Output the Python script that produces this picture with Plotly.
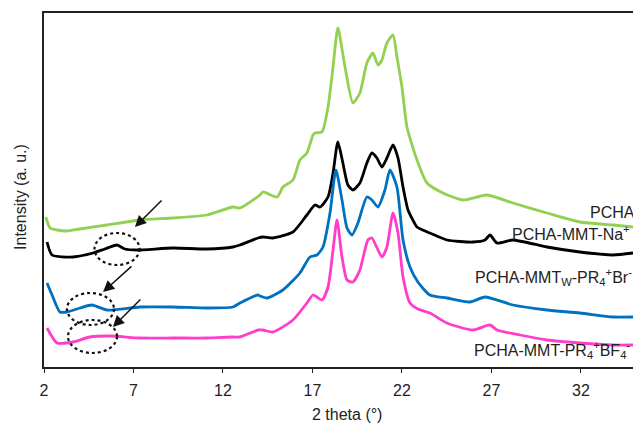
import plotly.graph_objects as go

# XRD patterns (2 theta in degrees, intensity in arbitrary units, curves offset vertically)
theta_pcha = [2.1, 2.34, 2.73, 3.28, 4.0, 5.52, 7.36, 9.21, 11.11, 12.56, 12.95, 14.07, 14.23,
              15.02, 15.35, 15.91, 16.30, 16.69, 17.03, 17.14, 17.53, 17.87, 18.15, 18.42, 18.82,
              19.26, 19.65, 20.04, 20.38, 20.66, 20.88, 21.16, 21.50, 21.72, 22.00, 22.28, 22.84,
              23.40, 24.29, 25.41, 26.75, 28.20, 30.10, 31.94, 33.79, 34.91]
int_pcha = [150, 139, 137, 136, 138, 142, 147, 149, 152, 160, 159, 172, 175,
            170, 180, 187, 207, 214, 232, 234, 235, 260, 300, 339, 300,
            264, 274, 304, 314, 302, 307, 324, 332, 310, 280, 240, 207,
            184, 174, 167, 172, 164, 154, 145, 142, 140]

theta_na = [2.17, 2.45, 3.62, 4.74, 5.40, 6.08, 6.52, 7.20, 9.21, 11.11, 12.56, 12.95, 13.96,
            14.23, 14.79, 15.91, 16.69, 17.14, 17.42, 17.87, 18.15, 18.42, 18.70, 18.98, 19.26,
            19.65, 20.04, 20.32, 20.60, 20.88, 21.16, 21.50, 21.78, 22.06, 22.34, 22.61, 22.84,
            23.56, 24.51, 25.97, 26.64, 26.92, 27.31, 28.20, 30.10, 31.94, 33.79, 34.91]
int_na = [125, 112, 110, 114, 118, 122, 118, 117, 119, 118, 120, 122, 129,
          130, 129, 135, 152, 162, 160, 170, 194, 225, 204, 182, 177,
          184, 204, 214, 209, 200, 209, 222, 209, 180, 157, 147, 140,
          134, 127, 125, 127, 132, 124, 127, 120, 115, 112, 114]

theta_br = [2.17, 2.45, 2.89, 3.28, 4.01, 4.68, 5.52, 7.36, 9.21, 11.11, 12.56, 12.95, 13.96,
            14.07, 14.46, 15.35, 16.30, 16.86, 17.25, 17.59, 17.98, 18.31, 18.65, 18.93, 19.21,
            19.54, 20.04, 20.32, 20.66, 21.05, 21.33, 21.72, 22.06, 22.45, 22.89, 23.56, 24.51,
            25.80, 26.64, 28.20, 30.10, 31.94, 33.79, 34.91]
int_br = [84, 72, 55, 55, 59, 62, 57, 60, 60, 59, 60, 64, 72,
          71, 69, 77, 94, 110, 112, 120, 154, 197, 167, 139, 132,
          144, 170, 167, 160, 177, 197, 180, 127, 100, 85, 72, 69,
          65, 70, 62, 57, 54, 50, 50]

theta_bf4 = [2.17, 2.73, 3.62, 4.57, 5.70, 7.36, 9.21, 11.11, 12.56, 12.95, 13.96, 14.23,
             14.79, 15.91, 16.69, 17.03, 17.53, 17.87, 18.15, 18.37, 18.65, 18.93, 19.26, 19.65,
             20.10, 20.32, 20.88, 21.16, 21.50, 21.78, 22.06, 22.45, 22.89, 23.56, 24.51, 25.97,
             26.92, 27.31, 28.59, 30.10, 31.94, 33.79, 34.91]
int_bf4 = [39, 24, 25, 30, 31, 29, 29, 29, 30, 30, 37, 37,
           35, 47, 64, 72, 67, 80, 117, 147, 110, 87, 85, 97,
           127, 129, 110, 120, 154, 134, 90, 64, 58, 54, 44, 37,
           42, 37, 32, 27, 24, 22, 22]

series_names = ["PCHA", "PCHA-MMT-Na+", "PCHA-MMTw-PR4+Br-", "PCHA-MMT-PR4+BF4-"]
series_theta = [theta_pcha, theta_na, theta_br, theta_bf4]
series_int = [int_pcha, int_na, int_br, int_bf4]
series_colors = ["#92D050", "#000000", "#0070C0", "#FF3DCB"]

# curve labels: text, left edge (2 theta), vertical centre (intensity)
label_texts = ["PCHA",
               "PCHA-MMT-Na<sup>+</sup>",
               "PCHA-MMT<sub>W</sub>-PR<sub>4</sub><sup>+</sup>Br<sup>-</sup>",
               "PCHA-MMT-PR<sub>4</sub><sup>+</sup>BF<sub>4</sub><sup>-</sup>"]
label_theta = [32.39, 28.03, 25.97, 25.91]
label_int = [155, 134, 90, 17]

# dotted ellipses around the low-angle basal reflections: (x0, x1, y0, y1)
ellipses = [(4.82, 7.34, 102, 134), (3.28, 5.91, 42, 74), (3.34, 6.08, 14, 47)]
# arrows pointing at them: (head x, head y, tail x, tail y)
arrows = [(7.08, 140, 8.65, 168), (5.30, 75, 6.97, 102), (5.85, 40, 7.47, 69)]

x_ticks = [2, 7, 12, 17, 22, 27, 32]

FONT = "Liberation Sans, Arial, sans-serif"

fig = go.Figure()
for name, xs, ys, col in zip(series_names, series_theta, series_int, series_colors):
    fig.add_trace(go.Scatter(x=xs, y=ys, mode="lines", name=name,
                             line=dict(color=col, width=2.8, shape="spline", smoothing=0.6),
                             showlegend=False, hoverinfo="skip"))

for t, xv, yv in zip(label_texts, label_theta, label_int):
    fig.add_annotation(x=xv, y=yv, xref="x", yref="y", text=t, showarrow=False,
                       xanchor="left", yanchor="middle",
                       font=dict(family=FONT, size=16, color="#222222"))

for x0, x1, y0, y1 in ellipses:
    fig.add_shape(type="circle", xref="x", yref="y", x0=x0, x1=x1, y0=y0, y1=y1,
                  line=dict(color="#111111", width=2.2, dash="dot"))

for hx, hy, tx, ty in arrows:
    fig.add_annotation(x=hx, y=hy, ax=tx, ay=ty, xref="x", yref="y", axref="x", ayref="y",
                       text="", showarrow=True, arrowhead=2, arrowsize=1.5,
                       arrowwidth=1.5, arrowcolor="#111111")

fig.add_annotation(text="2 theta (°)", xref="paper", yref="paper", x=0.514, y=-0.133,
                   showarrow=False, xanchor="center", yanchor="middle",
                   font=dict(family=FONT, size=16, color="#222222"))
fig.add_annotation(text="Intensity (a. u.)", xref="paper", yref="paper", x=-0.041, y=0.48,
                   showarrow=False, textangle=-90, xanchor="center", yanchor="middle",
                   font=dict(family=FONT, size=16, color="#222222"))

fig.update_layout(
    width=633, height=425,
    margin=dict(l=44, r=0, t=13, b=58),
    paper_bgcolor="white", plot_bgcolor="white",
    xaxis=dict(range=[2, 34.91], tickvals=x_ticks, ticktext=[str(v) for v in x_ticks],
               showgrid=False, zeroline=False, showline=True, linecolor="#222222",
               linewidth=1.6, mirror=True, ticks="outside", ticklen=4, tickwidth=1.2,
               tickcolor="#222222", ticklabelstandoff=4,
               tickfont=dict(family=FONT, size=16, color="#222222")),
    yaxis=dict(range=[0, 354], showticklabels=False, showgrid=False, zeroline=False,
               showline=True, linecolor="#222222", linewidth=1.6, ticks=""),
)

fig.write_html("out.html")
